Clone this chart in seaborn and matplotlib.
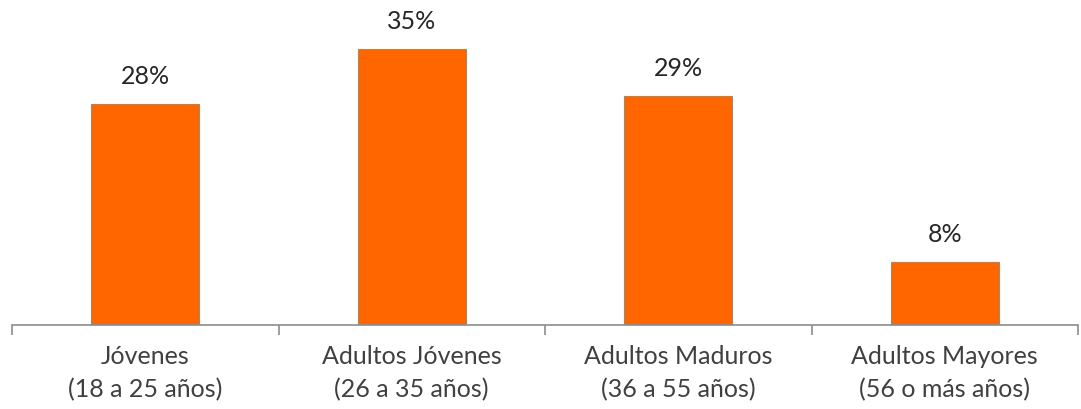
import pandas as pd
import seaborn as sns
import matplotlib.pyplot as plt
from matplotlib.ticker import FixedLocator

# datos
categorias = ['Jóvenes\n(18 a 25 años)', 'Adultos Jóvenes\n(26 a 35 años)',
              'Adultos Maduros\n(36 a 55 años)', 'Adultos Mayores\n(56 o más años)']
porcentajes = [28, 35, 29, 8]

df = pd.DataFrame({'grupo': categorias, 'pct': porcentajes})

sns.set_style('white')
plt.rcParams['font.family'] = ['Lato', 'DejaVu Sans']

fig = plt.figure(figsize=(10.81, 4.10), dpi=100)
ax = fig.add_axes([12 / 1081, 84 / 410, 1066 / 1081, 326 / 410])

sns.barplot(data=df, x='grupo', y='pct', color='#FF6600', width=0.405,
            edgecolor='#A08A6A', linewidth=0.8, saturation=1, ax=ax)

ax.bar_label(ax.containers[0], labels=[f'{v}%' for v in porcentajes],
             padding=12, fontsize=18, color='#262626')

ax.set_xlim(-0.5, 3.5)
ax.set_ylim(0, 41.3)
ax.set_xlabel('')
ax.set_ylabel('')
ax.set_yticks([])
ax.set_xticks(range(len(categorias)), labels=categorias, linespacing=1.5)

for s in ['top', 'right', 'left']:
    ax.spines[s].set_visible(False)
ax.spines['bottom'].set_color('#8C8C8C')
ax.spines['bottom'].set_linewidth(1.2)

ax.xaxis.set_minor_locator(FixedLocator([-0.5, 0.5, 1.5, 2.5, 3.5]))
ax.tick_params(axis='x', which='major', bottom=False, length=0, pad=14,
               labelsize=18, labelcolor='#404040')
ax.tick_params(axis='x', which='minor', bottom=True, length=7, width=1.2,
               color='#8C8C8C', direction='out')

fig.savefig('out.png', dpi=100)
